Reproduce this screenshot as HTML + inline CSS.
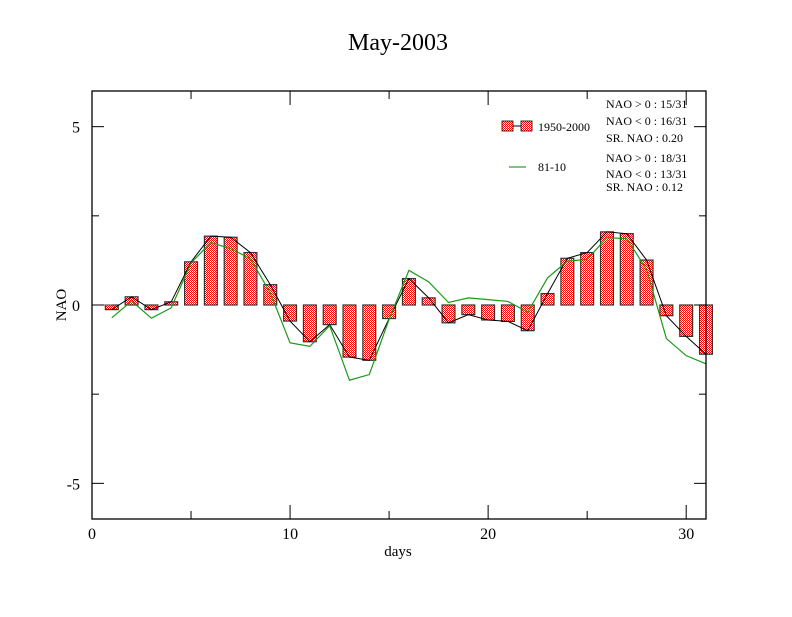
<!DOCTYPE html>
<html><head><meta charset="utf-8"><style>
body{margin:0;background:#fff}
svg text{font-family:"Liberation Serif",serif;fill:#000}
</style></head><body>
<svg id="chart" width="792" height="612" xmlns="http://www.w3.org/2000/svg">
<defs>
<pattern id="chk" width="2" height="2" patternUnits="userSpaceOnUse">
<rect width="2" height="2" fill="#fff"/><rect width="1" height="1" fill="#f00"/><rect x="1" y="1" width="1" height="1" fill="#f00"/>
</pattern>
</defs>
<rect width="792" height="612" fill="#fff"/>
<text x="398" y="50" font-size="24" text-anchor="middle">May-2003</text>
<g id="marks"></g>
<rect x="92" y="91" width="614" height="428" fill="none" stroke="#000" stroke-width="1.3"/>
<g id="axes"></g>
<text x="398" y="556" font-size="15" text-anchor="middle">days</text>
<text x="66" y="305" font-size="15" text-anchor="middle" transform="rotate(-90 66 305)">NAO</text>
<g font-size="12">
<line x1="508" y1="126" x2="528" y2="126" stroke="#000"/>
<rect x="502" y="121" width="11" height="10" fill="url(#chk)" stroke="#000" stroke-width="0.8"/>
<rect x="521" y="121" width="11" height="10" fill="url(#chk)" stroke="#000" stroke-width="0.8"/>
<text x="538" y="131">1950-2000</text>
<line x1="509" y1="167" x2="526" y2="167" stroke="#080"/>
<text x="538" y="171">81-10</text>
<text x="606" y="108">NAO &gt; 0 : 15/31</text>
<text x="606" y="125">NAO &lt; 0 : 16/31</text>
<text x="606" y="142">SR. NAO :  0.20</text>
<text x="606" y="162">NAO &gt; 0 : 18/31</text>
<text x="606" y="178">NAO &lt; 0 : 13/31</text>
<text x="606" y="191">SR. NAO :  0.12</text>
</g>
</svg>
<script>
const days=[1,2,3,4,5,6,7,8,9,10,11,12,13,14,15,16,17,18,19,20,21,22,23,24,25,26,27,28,29,30,31];
const clim1950=[-0.13,0.23,-0.13,0.09,1.21,1.93,1.90,1.47,0.57,-0.45,-1.03,-0.55,-1.46,-1.55,-0.38,0.74,0.20,-0.50,-0.27,-0.42,-0.46,-0.72,0.32,1.31,1.47,2.05,2.00,1.26,-0.30,-0.88,-1.38];
const clim8110=[-0.36,0.11,-0.37,-0.08,1.18,1.75,1.58,1.30,0.34,-1.06,-1.16,-0.58,-2.11,-1.95,-0.40,0.97,0.65,0.07,0.20,0.15,0.10,-0.20,0.76,1.23,1.28,1.89,1.86,1.00,-0.94,-1.42,-1.65];
const xTicks=[0,10,20,30];
const yTicks=[-5,0,5];
const NS="http://www.w3.org/2000/svg";
const X0=92,X1=706,Y0=519,Y1=91,XMIN=0,XMAX=31,YMIN=-6,YMAX=6;
function sx(v){return X0+(v-XMIN)/(XMAX-XMIN)*(X1-X0);}
function sy(v){return Y0-(v-YMIN)/(YMAX-YMIN)*(Y0-Y1);}
function mk(t,a,p){const e=document.createElementNS(NS,t);for(const k in a)e.setAttribute(k,a[k]);p.appendChild(e);return e;}
const marks=document.getElementById('marks'),axes=document.getElementById('axes');
const bw=0.65*(sx(1)-sx(0));
days.forEach((d,i)=>{const v=clim1950[i];const y=Math.min(sy(v),sy(0));const h=Math.abs(sy(v)-sy(0));
const r=mk('rect',{x:sx(d)-bw/2,y:y,width:bw,height:h,fill:'url(#chk)',stroke:'#333','stroke-width':1.2},marks);

});
let zl=mk('line',{x1:X0,y1:sy(0),x2:sx(1),y2:sy(0),stroke:'#666','stroke-width':1},marks);


const l1=mk('polyline',{points:days.map((d,i)=>sx(d)+','+sy(clim1950[i])).join(' '),fill:'none',stroke:'#000','stroke-width':1},marks);


const l2=mk('polyline',{points:days.map((d,i)=>sx(d)+','+sy(clim8110[i])).join(' '),fill:'none',stroke:'#1a9a1a','stroke-width':1.2},marks);


for(let v=0;v<=30;v+=5){const L=v%10==0?14:8;
mk('line',{x1:sx(v),y1:Y0,x2:sx(v),y2:Y0-L,stroke:'#000'},axes);
mk('line',{x1:sx(v),y1:Y1,x2:sx(v),y2:Y1+L,stroke:'#000'},axes);}
xTicks.forEach(v=>{const t=mk('text',{x:sx(v),y:539,'font-size':16,'text-anchor':'middle'},axes);t.textContent=v;

});
for(let v=-5;v<=5;v+=2.5){const L=v%5==0?12:7;
mk('line',{x1:X0,y1:sy(v),x2:X0+L,y2:sy(v),stroke:'#000'},axes);
mk('line',{x1:X1,y1:sy(v),x2:X1-L,y2:sy(v),stroke:'#000'},axes);}
yTicks.forEach(v=>{const t=mk('text',{x:80,y:sy(v)+6,'font-size':16,'text-anchor':'end'},axes);t.textContent=v;

});
</script>
</body></html>
